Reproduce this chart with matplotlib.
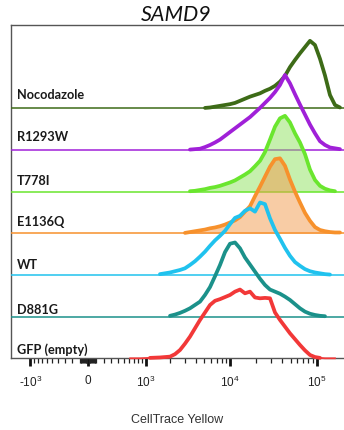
import numpy as np
import matplotlib
matplotlib.use('Agg')
import matplotlib.pyplot as plt
from matplotlib.ticker import FixedLocator, NullFormatter
import matplotlib.transforms as mtransforms

plt.rcParams['mathtext.fontset'] = 'custom'
plt.rcParams['mathtext.rm'] = 'Liberation Sans'
plt.rcParams['mathtext.it'] = 'Liberation Sans:italic'

# fluorescence channel values (CellTrace Yellow) shared by all histograms
fluor = [620, 850, 1130, 1500, 1980, 2270, 2600, 2970, 3400, 3890, 4450, 5090, 5820,
         6650, 7600, 8690, 9920, 11340, 12960, 14800, 16920, 19330, 22090, 25240,
         28840, 32960, 37650, 43020, 49150, 56160, 64170, 73330, 83790, 95740,
         109400, 125000, 142800, 163200, 186500]

# normalised histogram heights (lane height = 1)
nocodazole = [0, 0, 0, 0, 0, 0, 0, 0, 0, 0,
              0, 0.01, 0.02, 0.04, 0.06, 0.08, 0.10, 0.13, 0.18, 0.23, 0.28, 0.32,
              0.36, 0.42, 0.47, 0.54, 0.64, 0.78, 0.99, 1.16, 1.32, 1.47, 1.62, 1.52,
              1.19, 0.79, 0.32, 0.08, 0.02]
r1293w = [0, 0, 0, 0, 0, 0, 0, 0,
          0.01, 0.02, 0.03, 0.07, 0.12, 0.18, 0.25, 0.34, 0.43, 0.52, 0.61, 0.70,
          0.79, 0.90, 1.01, 1.13, 1.25, 1.39, 1.56, 1.80, 1.60, 1.34, 1.09, 0.85,
          0.61, 0.40, 0.21, 0.12, 0.06, 0.04, 0.02]
t778i = [0, 0, 0, 0, 0, 0, 0, 0,
         0.01, 0.02, 0.04, 0.06, 0.09, 0.11, 0.14, 0.18, 0.22, 0.27, 0.34, 0.41,
         0.49, 0.61, 0.74, 0.95, 1.25, 1.56, 1.76, 1.82, 1.66, 1.40, 1.18, 0.90,
         0.53, 0.28, 0.14, 0.07, 0.03, 0.01, 0]
e1136q = [0, 0, 0, 0, 0, 0, 0,
          0.01, 0.03, 0.05, 0.07, 0.09, 0.12, 0.14, 0.17, 0.21, 0.26, 0.31, 0.39,
          0.52, 0.65, 0.89, 1.12, 1.36, 1.60, 1.78, 1.80, 1.62, 1.29, 1.00, 0.74,
          0.49, 0.30, 0.15, 0.08, 0.05, 0.03, 0.02, 0.02]
wt = [0, 0, 0, 0.02, 0.06, 0.09, 0.12, 0.16, 0.24, 0.33, 0.44, 0.56, 0.70, 0.83,
      0.94, 1.06, 1.22, 1.37, 1.42, 1.54, 1.60, 1.52, 1.74, 1.70, 1.36, 1.08, 0.87,
      0.65, 0.46, 0.31, 0.22, 0.14, 0.09, 0.06, 0.04, 0.02, 0.01, 0, 0]
d881g = [0, 0, 0, 0, 0.02, 0.05, 0.09, 0.14, 0.20, 0.28, 0.36, 0.52, 0.71, 0.97,
         1.24, 1.55, 1.75, 1.78, 1.64, 1.42, 1.25, 1.08, 0.91, 0.76, 0.65, 0.60,
         0.55, 0.48, 0.40, 0.30, 0.20, 0.12, 0.07, 0.04, 0.02, 0.01, 0, 0, 0]
gfp = [0, 0, 0.01, 0.02, 0.04, 0.10, 0.20, 0.35, 0.52, 0.72, 0.92, 1.10, 1.28,
       1.38, 1.42, 1.47, 1.52, 1.60, 1.65, 1.56, 1.60, 1.46, 1.44, 1.45, 1.44,
       1.10, 0.92, 0.76, 0.60, 0.46, 0.32, 0.19, 0.08, 0.03, 0.01, 0, 0, 0, np.nan]

labels = ['Nocodazole', 'R1293W', 'T778I', 'E1136Q', 'WT', 'D881G', 'GFP (empty)']
series = [nocodazole, r1293w, t778i, e1136q, wt, d881g, gfp]
colors = ['#3d6b17', '#a020d8', '#6ae62e', '#f7912c', '#20c2ee', '#1b918a', '#f23838']
fills = [None, None, '#8fe35f', '#f39a4c', None, None, None]
label_dy = [0.32, 0.30, 0.26, 0.26, 0.23, 0.17, 0.21]

x = np.array(fluor, dtype=float)
n = len(labels)

fig = plt.figure(figsize=(3.44, 4.30), dpi=100)
ax = fig.add_axes([11 / 344, 1 - 358.3 / 430, 1 - 11 / 344, (358.3 - 25) / 430])
ax.set_xscale('asinh', linear_width=450)
ax.set_xlim(-1725, 207600)
ax.set_ylim(0, 8.0)

trans = mtransforms.blended_transform_factory(ax.transAxes, ax.transData)
for i, (lab, h, c, fc) in enumerate(zip(labels, series, colors, fills)):
    off = n - 1 - i
    h = np.array(h, dtype=float)
    z = 3 + i
    if fc is not None:
        ax.fill_between(x, off, off + h, color=fc, alpha=0.5, lw=0, zorder=z)
    if i < n - 1:
        ax.axhline(off, color=c, lw=1.1, zorder=z)
    else:
        ax.plot(x, off + h, color=c, lw=1.3, zorder=z, clip_on=False)
    thick = np.where(h > 0.005, off + h, np.nan)
    ax.plot(x, thick, color=c, lw=2.7, zorder=z + 0.5, solid_capstyle='round',
            solid_joinstyle='round', clip_on=False)
    ax.text(0.018, off + label_dy[i], lab, transform=trans, fontsize=9.2,
            fontweight='bold', family='Lato', color='#1a1a1a', va='center', ha='left',
            zorder=20)

ax.spines['right'].set_visible(False)
for s in ['left', 'top', 'bottom']:
    ax.spines[s].set_color('#555555')
    ax.spines[s].set_linewidth(1.0)

ax.set_yticks([])
major = [-1000, 0, 1000, 10000, 100000]
ax.xaxis.set_major_locator(FixedLocator(major))
ax.set_xticklabels([r'-$10^3$', '0', r'$10^3$', r'$10^4$', r'$10^5$'])
minor = ([-k * 100 for k in range(1, 10)] + [-k * 10 for k in range(1, 10)]
         + [k * 10 for k in range(1, 10)] + [k * 100 for k in range(1, 10)]
         + [k * 1000 for k in range(2, 10)] + [k * 10000 for k in range(2, 10)])
ax.xaxis.set_minor_locator(FixedLocator(minor))
ax.xaxis.set_minor_formatter(NullFormatter())
ax.tick_params(axis='x', which='major', direction='out', length=6, width=2,
               color='#111111', labelsize=8.5, labelcolor='#222222', pad=6)
ax.tick_params(axis='x', which='minor', direction='out', length=3.5, width=0.9,
               color='#222222')
for t in ax.get_xticklabels():
    t.set_family('Liberation Sans')

ax.set_xlabel('CellTrace Yellow', fontsize=9, family='Liberation Sans',
              color='#333333', labelpad=17)
fig.text(176 / 344, 1 - 15 / 430, 'SAMD9', fontsize=15.5, style='italic',
         family='Lato', ha='center', va='center', color='#111111')

plt.savefig('out.png', dpi=100)
